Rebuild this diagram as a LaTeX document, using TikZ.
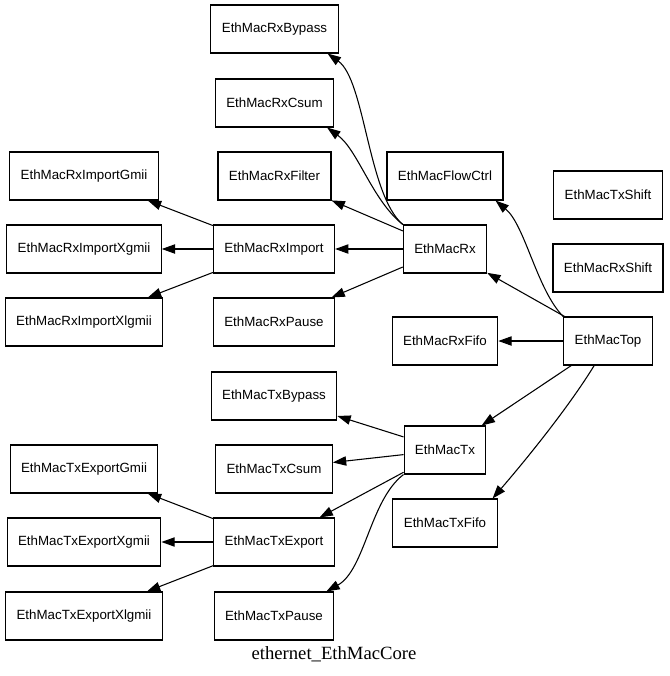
\documentclass[tikz,border=0pt]{standalone}
\usepackage{fontspec}
\setmainfont{Liberation Serif}
\setsansfont{Liberation Sans}
\usetikzlibrary{arrows.meta, calc}

\begin{document}
\begin{tikzpicture}[x=0.75pt, y=-0.75pt, >={Triangle[length=10pt, width=7pt]},
  module/.style={draw, line width=0.8pt, minimum height=36pt, inner xsep=8.2pt,
    font=\sffamily\fontsize{10}{12}\selectfont},
  link/.style={line width=0.8pt, ->}]

% Frame (pixel grid of the reference)
\useasboundingbox (0,0) rectangle (669,676);

% Top level modules
\node[module] (top) at (608,341) {EthMacTop};
\node[module] (txshift) at (608,195) {EthMacTxShift};
\node[module] (rxshift) at (608,268) {EthMacRxShift};
\node[module] (flowctrl) at (445,176) {EthMacFlowCtrl};
\node[module] (rx) at (445,249) {EthMacRx};
\node[module] (rxfifo) at (445,341) {EthMacRxFifo};
\node[module] (tx) at (445,450) {EthMacTx};
\node[module] (txfifo) at (445,523) {EthMacTxFifo};

% Receive side
\node[module] (rxbypass) at (274.5,29) {EthMacRxBypass};
\node[module] (rxcsum) at (274.5,103) {EthMacRxCsum};
\node[module] (rxfilter) at (274.5,176) {EthMacRxFilter};
\node[module] (rximport) at (274,249) {EthMacRxImport};
\node[module] (rxpause) at (274,322) {EthMacRxPause};
\node[module] (rxgmii) at (84,176) {EthMacRxImportGmii};
\node[module] (rxxgmii) at (84,249) {EthMacRxImportXgmii};
\node[module] (rxxlgmii) at (84,322) {EthMacRxImportXlgmii};

% Transmit side
\node[module] (txbypass) at (274,396) {EthMacTxBypass};
\node[module] (txcsum) at (274,469) {EthMacTxCsum};
\node[module] (txexport) at (274,542) {EthMacTxExport};
\node[module] (txpause) at (274,616) {EthMacTxPause};
\node[module] (txgmii) at (84,469) {EthMacTxExportGmii};
\node[module] (txxgmii) at (84,542) {EthMacTxExportXgmii};
\node[module] (txxlgmii) at (84,616) {EthMacTxExportXlgmii};

% Graph label
\node[font=\fontsize{14}{16}\selectfont] (caption) at (334,654) {ethernet\_EthMacCore};

% EthMacTop
\draw[link] (top.north west) .. controls (537,290) and (525,225) .. ($(flowctrl.south east)+(-8,0)$);
\draw[link] (top) -- (rx);
\draw[link] (top) -- (rxfifo);
\draw[link] (top) -- (tx);
\draw[link] ($(top.south west)+(31,0)$) .. controls (570,405) and (530,455) .. ($(txfifo.north east)+(-5,0)$);

% EthMacRx
\draw[link] (rx.north west) .. controls (368,195) and (365,80) .. ($(rxbypass.south east)+(-11,0)$);
\draw[link] (rx.north west) .. controls (372,200) and (358,150) .. ($(rxcsum.south east)+(-7,0)$);
\draw[link] (rx) -- (rxfilter);
\draw[link] (rx) -- (rximport);
\draw[link] (rx) -- (rxpause);

% EthMacRxImport
\draw[link] (rximport) -- (rxgmii);
\draw[link] (rximport) -- (rxxgmii);
\draw[link] (rximport) -- (rxxlgmii);

% EthMacTx
\draw[link] (tx) -- (txbypass);
\draw[link] (tx) -- (txcsum);
\draw[link] (tx) -- (txexport);
\draw[link] (tx.south west) .. controls (370,500) and (365,570) .. ($(txpause.north east)+(-8,0)$);

% EthMacTxExport
\draw[link] (txexport) -- (txgmii);
\draw[link] (txexport) -- (txxgmii);
\draw[link] (txexport) -- (txxlgmii);

\end{tikzpicture}
\end{document}
